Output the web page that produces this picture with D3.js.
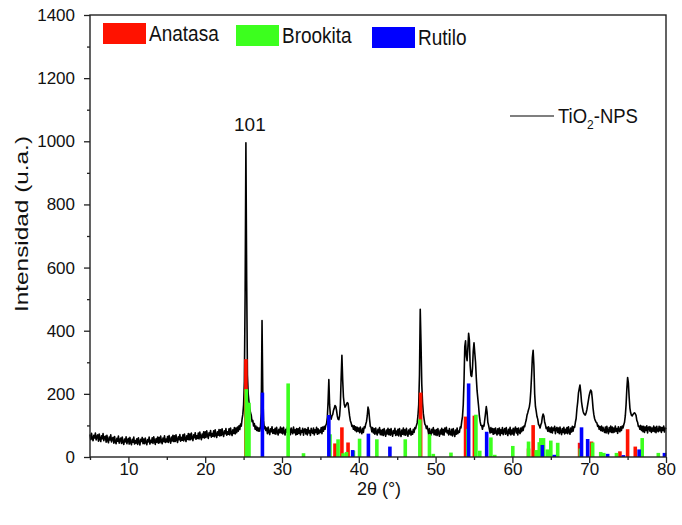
<!DOCTYPE html>
<html>
<head>
<meta charset="utf-8">
<script src="https://cdn.jsdelivr.net/npm/d3@7"></script>
<style>
  html, body { margin: 0; padding: 0; background: #fff; }
  svg { display: block; }
  text { font-family: "Liberation Sans", Arial, sans-serif; fill: #111; }
</style>
</head>
<body>
<svg id="chart" width="682" height="525"></svg>
<script>
// ---- data ----
const angleStart = 5;     // first sample of the measured pattern (2θ, degrees)
const angleStep = 0.1;    // sampling step of the measured pattern
// measured intensity (u.a.), one row per degree: d.0 ... d.9
const intensity = [
  72,55,75,58,52,69,60,76,54,65,      // 5
  70,50,73,56,49,67,58,74,52,63,      // 6
  66,47,69,52,45,63,54,70,48,59,      // 7
  62,44,65,48,42,59,50,66,44,55,      // 8
  60,43,63,46,40,57,48,64,42,53,      // 9
  59,41,62,45,39,56,47,63,41,52,      // 10
  44,58,40,61,47,38,56,49,62,42,      // 11
  57,42,60,46,39,55,48,63,41,53,      // 12
  46,61,43,64,50,40,58,47,63,44,      // 13
  62,45,66,50,42,60,49,67,46,57,      // 14
  48,65,46,68,53,44,63,51,69,49,      // 15
  67,49,70,54,46,64,55,71,50,62,      // 16
  53,70,51,73,57,49,67,56,74,54,      // 17
  73,55,76,60,52,70,61,77,56,67,      // 18
  59,76,57,79,63,55,73,62,80,60,      // 19
  80,62,83,67,59,77,68,84,63,74,      // 20
  66,83,64,86,70,62,80,69,87,67,      // 21
  86,68,89,73,65,83,74,90,69,80,      // 22
  72,89,70,92,76,68,86,75,93,73,      // 23
  92,77,95,82,99,87,104,98,120,135,   // 24
  165,240,520,995,560,260,200,175,155,140, // 25
  132,112,116,98,106,88,98,84,94,82,  // 26
  92,82,98,140,432,200,116,90,96,84,  // 27
  92,74,95,79,71,89,80,96,75,86,      // 28
  74,91,72,94,78,70,88,77,95,76,      // 29
  91,73,94,78,70,88,79,95,74,85,      // 30
  88,71,92,80,74,95,77,86,70,90,      // 31
  72,89,75,93,70,84,78,91,69,86,      // 32
  90,73,87,70,93,76,84,68,91,79,      // 33
  75,92,70,86,78,94,72,89,74,85,      // 34
  78,93,74,95,82,97,88,100,106,125,   // 35
  175,245,165,132,120,130,134,147,154,163, // 36
  160,148,130,120,118,130,165,250,322,245, // 37
  190,168,158,162,168,172,170,150,130,115, // 38
  108,97,100,88,99,84,96,80,94,82,    // 39
  92,77,95,80,74,91,78,96,92,104,     // 40
  112,130,158,148,120,97,94,80,93,76, // 41
  89,72,92,76,70,88,77,93,71,85,      // 42
  70,87,68,90,74,66,85,73,91,71,      // 43
  87,69,90,74,66,84,75,91,68,82,      // 44
  70,88,67,90,76,65,85,72,92,70,      // 45
  86,69,91,74,66,85,73,90,69,81,      // 46
  72,88,78,93,90,100,108,130,165,260, // 47
  468,360,230,172,138,120,104,100,90,98, // 48
  86,72,90,76,70,88,77,93,71,85,      // 49
  70,87,68,90,74,66,85,73,91,71,      // 50
  87,69,92,80,94,76,84,70,90,73,      // 51
  70,88,67,90,76,65,85,72,92,74,      // 52
  82,78,95,92,112,128,165,240,350,368, // 53
  320,305,345,392,370,290,258,255,280,335, // 54
  362,330,300,250,210,185,160,130,112,100, // 55
  100,88,100,98,118,138,160,142,110,100, // 56
  88,76,93,78,90,72,89,74,92,77,      // 57
  70,89,74,92,68,86,75,93,71,84,      // 58
  90,72,93,76,68,88,74,94,70,85,      // 59
  73,91,69,88,95,76,90,70,92,79,      // 60
  74,92,80,95,84,98,96,108,117,132,   // 61
  140,150,158,175,210,260,315,338,290,200, // 62
  160,145,128,120,103,100,92,102,108,127, // 63
  136,130,110,102,90,94,82,96,80,92,  // 64
  78,95,76,92,84,97,74,90,94,78,      // 65
  92,74,95,79,71,90,78,94,73,88,      // 66
  76,93,74,96,80,72,92,79,97,82,      // 67
  96,94,110,122,152,173,202,216,228,205, // 68
  175,158,145,138,134,133,140,150,165,180, // 69
  195,205,212,208,185,155,135,122,115,110, // 70
  108,97,100,88,96,84,98,82,94,84,    // 71
  78,95,76,97,82,74,93,80,98,78,      // 72
  95,77,92,79,98,82,90,75,96,84,      // 73
  80,96,84,98,92,102,110,130,165,215, // 74
  252,235,190,155,140,132,130,135,138,140, // 75
  137,132,116,110,97,98,88,100,84,97, // 76
  80,97,78,95,84,99,76,93,96,82,      // 77
  95,78,92,82,98,80,94,77,97,83,      // 78
  80,97,83,95,78,93,84,98,79,92,      // 79
  88                                   // 80.0
];

// reference patterns (2θ position, relative intensity as drawn)
const anataseAngles  = [25.3, 36.9, 37.8, 38.6, 48.05, 53.9, 55.05, 62.1, 62.7, 68.75, 70.3, 74.0, 75.0, 76.0];
const anataseHeights = [310, 43, 94, 46, 204, 128, 131, 27, 101, 45, 49, 18, 88, 33];

const brookiteAngles  = [25.35, 25.7, 30.8, 32.8, 36.25, 37.3, 37.95, 38.4, 39.3, 40.1, 42.35, 46.05, 47.95, 49.2, 49.7, 52.0, 54.2, 55.25, 55.75, 57.2, 57.7, 60.05, 62.1, 63.1, 63.5, 63.7, 64.05, 64.55, 65.0, 65.9, 68.85, 70.45, 71.5, 71.9, 73.55, 76.9, 79.0];
const brookiteHeights = [215, 172, 233, 12, 72, 56, 12, 16, 20, 58, 56, 56, 119, 72, 10, 14, 89, 134, 20, 62, 7, 35, 49, 22, 47, 60, 60, 24, 52, 45, 27, 46, 16, 13, 13, 60, 13];

const rutileAngles  = [27.45, 36.1, 39.2, 41.25, 44.05, 54.3, 56.65, 63.9, 65.45, 69.0, 69.8, 72.4, 74.45, 76.5, 79.8];
const rutileHeights = [204, 133, 22, 74, 33, 233, 80, 38, 7, 94, 57, 10, 6, 24, 13];

const xMajorTicks = [10, 20, 30, 40, 50, 60, 70, 80];
const xMinorTicks = [5, 15, 25, 35, 45, 55, 65, 75];
const yMajorTicks = [0, 200, 400, 600, 800, 1000, 1200, 1400];
const yMinorTicks = [100, 300, 500, 700, 900, 1100, 1300];

const phaseNames  = ["Anatasa", "Brookita", "Rutilo"];
const phaseColors = ["#ff1200", "#3cff1e", "#0000ff"];
const seriesName  = "TiO";
const peakLabel   = "101";
const peakLabelAngle = 25.3;
const peakLabelValue = 995;

// ---- drawing ----
const svg = d3.select("#chart");
const x = d3.scaleLinear().domain([5, 80]).range([90, 666]);
const y = d3.scaleLinear().domain([0, 1400]).range([457, 15]);

const pattern = intensity.map((v, i) => ({ a: angleStart + i * angleStep, v }));

// axes
const gx = svg.append("g").attr("transform", `translate(0,${y(0)})`);
gx.call(d3.axisBottom(x).tickValues(xMajorTicks).tickSize(6).tickPadding(0).tickFormat(d3.format("d")));
const gxm = svg.append("g").attr("transform", `translate(0,${y(0)})`);
gxm.call(d3.axisBottom(x).tickValues(xMinorTicks).tickSize(3).tickFormat(""));
const gy = svg.append("g").attr("transform", `translate(${x(5)},0)`);
gy.call(d3.axisLeft(y).tickValues(yMajorTicks).tickSize(6).tickPadding(9).tickFormat(d3.format("d")));
const gym = svg.append("g").attr("transform", `translate(${x(5)},0)`);
gym.call(d3.axisLeft(y).tickValues(yMinorTicks).tickSize(3).tickFormat(""));

[gx, gxm, gy, gym].forEach(g => {
  g.select(".domain").remove();
  g.selectAll(".tick line").attr("stroke", "#222").attr("stroke-width", 1.3);
  g.selectAll(".tick text").attr("font-size", 17).attr("fill", "#111")
    .attr("font-family", "Liberation Sans, Arial, sans-serif");
});

// measured pattern line
const line = d3.line().x(d => x(d.a)).y(d => y(d.v));
svg.append("path").datum(pattern)
  .attr("d", line).attr("fill", "none")
  .attr("stroke", "#000").attr("stroke-width", 1.6).attr("stroke-linejoin", "round");

// reference bars
const barW = 3.6;
const phases = [
  { angles: anataseAngles, heights: anataseHeights, color: phaseColors[0] },
  { angles: brookiteAngles, heights: brookiteHeights, color: phaseColors[1] },
  { angles: rutileAngles, heights: rutileHeights, color: phaseColors[2] }
];
phases.forEach(p => {
  svg.append("g").selectAll("rect")
    .data(p.angles.map((a, i) => ({ a, h: p.heights[i] })))
    .join("rect")
    .attr("x", d => x(d.a) - barW / 2)
    .attr("width", barW)
    .attr("y", d => y(d.h))
    .attr("height", d => y(0) - y(d.h))
    .attr("fill", p.color);
});

// frame
svg.append("rect")
  .attr("x", x(5)).attr("y", y(1400))
  .attr("width", x(80) - x(5)).attr("height", y(0) - y(1400))
  .attr("fill", "none").attr("stroke", "#222").attr("stroke-width", 1.4);

// axis titles
svg.append("text")
  .attr("x", 379).attr("y", 495)
  .attr("text-anchor", "middle").attr("font-size", 18)
  .text("2θ (°)");
svg.append("text")
  .attr("transform", "translate(28,224) rotate(-90)")
  .attr("text-anchor", "middle").attr("font-size", 19)
  .attr("textLength", 176).attr("lengthAdjust", "spacingAndGlyphs")
  .text("Intensidad (u.a.)");

// peak label
svg.append("text")
  .attr("x", x(peakLabelAngle) + 4).attr("y", y(peakLabelValue) - 12)
  .attr("text-anchor", "middle").attr("font-size", 19)
  .text(peakLabel);

// phase legend
const legendX = [103, 236, 372];
const legendY = [23, 25, 27];
phaseNames.forEach((n, i) => {
  svg.append("rect").attr("x", legendX[i]).attr("y", legendY[i])
    .attr("width", 43).attr("height", 21).attr("fill", phaseColors[i]);
  svg.append("text")
    .attr("transform", `translate(${legendX[i] + 46},${legendY[i] + 18}) scale(1,1.15)`)
    .attr("font-size", 19).text(n);
});

// series legend
svg.append("line").attr("x1", 510).attr("x2", 554).attr("y1", 116).attr("y2", 116)
  .attr("stroke", "#000").attr("stroke-width", 1.2);
const t = svg.append("text")
  .attr("transform", "translate(558,123) scale(1,1.1)")
  .attr("font-size", 18.5);
t.append("tspan").text(seriesName);
t.append("tspan").attr("font-size", 12).attr("dy", 5).text("2");
t.append("tspan").attr("dy", -5).text("-NPS");
</script>
</body>
</html>
